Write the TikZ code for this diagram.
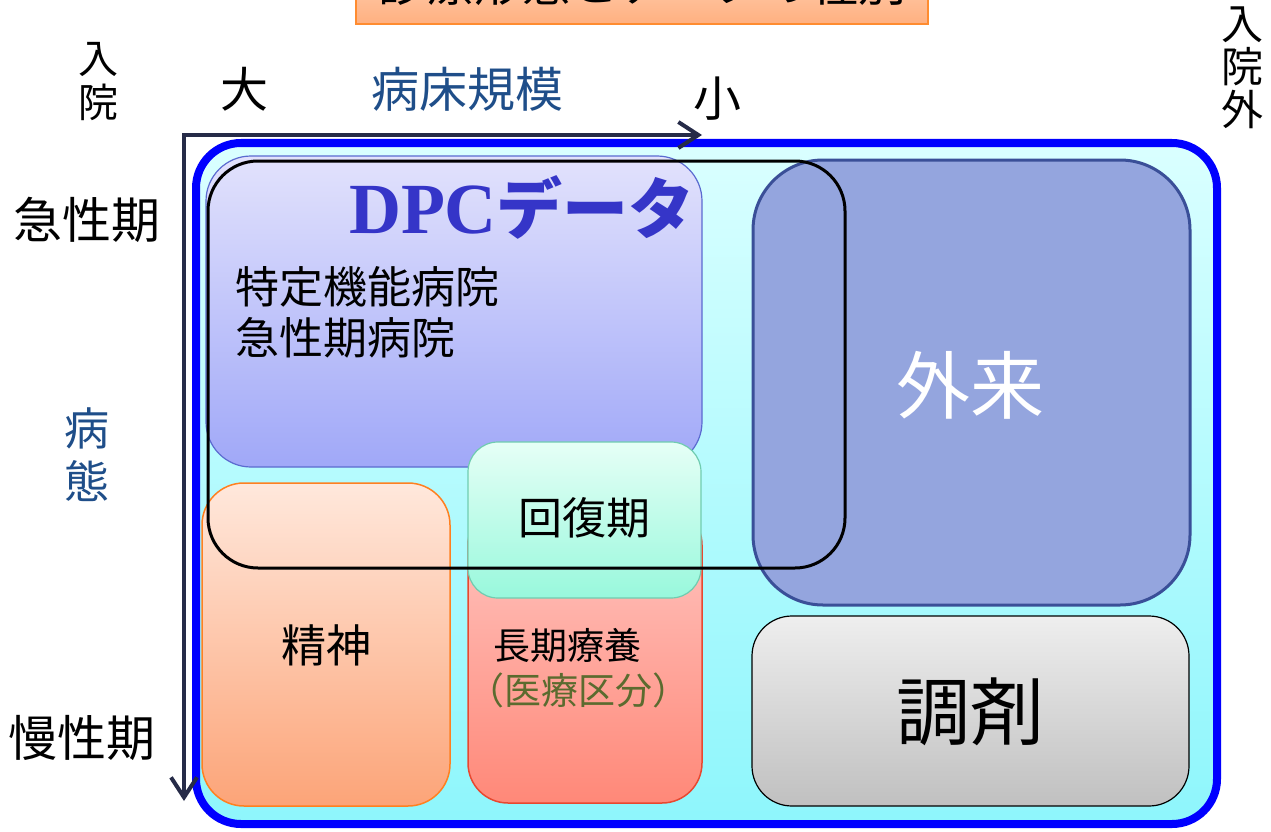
\documentclass[tikz,border=0pt]{standalone}
\usepackage{fontspec}
\setmainfont{Liberation Serif}
\newfontfamily\jp{Noto Sans CJK JP}
\usetikzlibrary{arrows.meta}
\definecolor{axisc}{HTML}{262B48}
\definecolor{outerTop}{HTML}{DAFFFF}
\definecolor{outerBot}{HTML}{8EF6FC}
\definecolor{dpcTop}{HTML}{E2E2FC}
\definecolor{dpcBot}{HTML}{A0A8F8}
\definecolor{dpcLine}{HTML}{5B6BD0}
\definecolor{gairaiFill}{HTML}{94A5DE}
\definecolor{gairaiLine}{HTML}{3A4F98}
\definecolor{chozaiTop}{HTML}{EEEEEE}
\definecolor{chozaiBot}{HTML}{C0C0C0}
\definecolor{seishinTop}{HTML}{FFE8DC}
\definecolor{seishinBot}{HTML}{FCA478}
\definecolor{seishinLine}{HTML}{FF8020}
\definecolor{chokiTop}{HTML}{FFC8C4}
\definecolor{chokiBot}{HTML}{FF8878}
\definecolor{chokiLine}{HTML}{E84830}
\definecolor{kaifukuTop}{HTML}{E6FFF6}
\definecolor{kaifukuBot}{HTML}{98F8DC}
\definecolor{kaifukuLine}{HTML}{70CCB0}
\definecolor{dpcText}{HTML}{3535C8}
\definecolor{navyText}{HTML}{1F4E89}
\definecolor{oliveText}{HTML}{5B6B2F}
\definecolor{titleTop}{HTML}{FFD8C0}
\definecolor{titleBot}{HTML}{FFB080}
\definecolor{titleLine}{HTML}{FF8C30}
\begin{document}
\begin{tikzpicture}[x=1pt,y=-1pt,
  rbox/.style={rectangle, rounded corners=#1, inner sep=0pt, outer sep=0pt, anchor=north west},
  lbl/.style={inner sep=0pt, font=\jp\fontsize{#1}{#1}\selectfont},
  vlbl/.style={inner sep=0pt, align=center},
  axis/.style={draw=axisc, line width=4pt, line join=miter,
    arrows={Straight Barb[length=20pt,width=26pt,line width=4pt]-Straight Barb[length=20pt,width=26pt,line width=4pt]}}]
\useasboundingbox (0,0) rectangle (1271,832);
\clip (0,0) rectangle (1271,832);
% title (cut off at top)
\node[rbox=0pt, draw=titleLine, line width=2pt, top color=titleTop, bottom color=titleBot,
  minimum width=572pt, minimum height=70pt] (titlebox) at (356,-46) {};
\node[lbl=48] (title) at (642,-17) {診療形態とデータの種別};
% outer frame
\node[rbox=45pt, draw=blue, line width=8pt, top color=outerTop, bottom color=outerBot,
  minimum width=1021pt, minimum height=681pt] (outer) at (196,143) {};
% axes
\coordinate (xend) at (702,135);
\coordinate (origin) at (184,135);
\coordinate (yend) at (184,801);
\draw[axis] (xend) -- (origin) -- (yend);
% boxes
\node[rbox=45pt, draw=dpcLine, line width=1.2pt, top color=dpcTop, bottom color=dpcBot,
  minimum width=496pt, minimum height=311pt] (dpc) at (206,156) {};
\node[rbox=42pt, draw=seishinLine, line width=1.5pt, top color=seishinTop, bottom color=seishinBot,
  minimum width=248pt, minimum height=323pt] (seishin) at (202,483) {};
\node[rbox=40pt, draw=chokiLine, line width=1.5pt, top color=chokiTop, bottom color=chokiBot,
  minimum width=234pt, minimum height=298pt] (choki) at (468,505) {};
\node[rbox=30pt, draw=kaifukuLine, line width=1.2pt, top color=kaifukuTop, bottom color=kaifukuBot,
  minimum width=233pt, minimum height=156pt] (kaifuku) at (468,442) {};
\node[rbox=70pt, draw=gairaiLine, line width=3pt, fill=gairaiFill,
  minimum width=437pt, minimum height=445pt] (gairai) at (753,160) {};
\node[rbox=40pt, draw=black, line width=1.2pt, top color=chozaiTop, bottom color=chozaiBot,
  minimum width=437pt, minimum height=190pt] (chozai) at (752,616) {};
\node[rbox=50pt, draw=black, line width=3pt,
  minimum width=637pt, minimum height=407pt] (acute) at (208,161) {};
% axis labels
\node[vlbl, font=\jp\fontsize{40}{44}\selectfont] (nyuin) at (98,82) {入\\院};
\node[vlbl, font=\jp\fontsize{42}{43}\selectfont] (nyuingai) at (1242,68) {入\\院\\外};
\node[lbl=48] (dai) at (244,89) {大};
\node[lbl=48, text=navyText] (byosho) at (467,89) {病床規模};
\node[lbl=48] (sho) at (717,99) {小};
\node[lbl=49] (kyusei) at (87,220) {急性期};
\node[vlbl, font=\jp\fontsize{45}{53}\selectfont, text=navyText] (byotai) at (87,455) {病\\態};
\node[lbl=49] (mansei) at (82,738) {慢性期};
% box labels
\node[inner sep=0pt, text=dpcText, font=\fontsize{72}{72}\selectfont\bfseries] (dpctext) at (522,207)
  {DPC{\jp\fontsize{66}{66}\selectfont\bfseries データ}};
\node[lbl=44, anchor=west] (tokutei) at (235,287) {特定機能病院};
\node[lbl=44, anchor=west] (kyuseiby) at (235,338) {急性期病院};
\node[lbl=74, text=white] (gairaitext) at (970,385) {外来};
\node[lbl=74] (chozaitext) at (970,712) {調剤};
\node[lbl=45] (seishintext) at (326,645) {精神};
\node[lbl=44] (kaifukutext) at (584,518) {回復期};
\node[lbl=37] (chokitext) at (567,645) {長期療養};
\node[lbl=37, text=oliveText] (kubun) at (578,690) {（医療区分）};
\end{tikzpicture}
\end{document}
